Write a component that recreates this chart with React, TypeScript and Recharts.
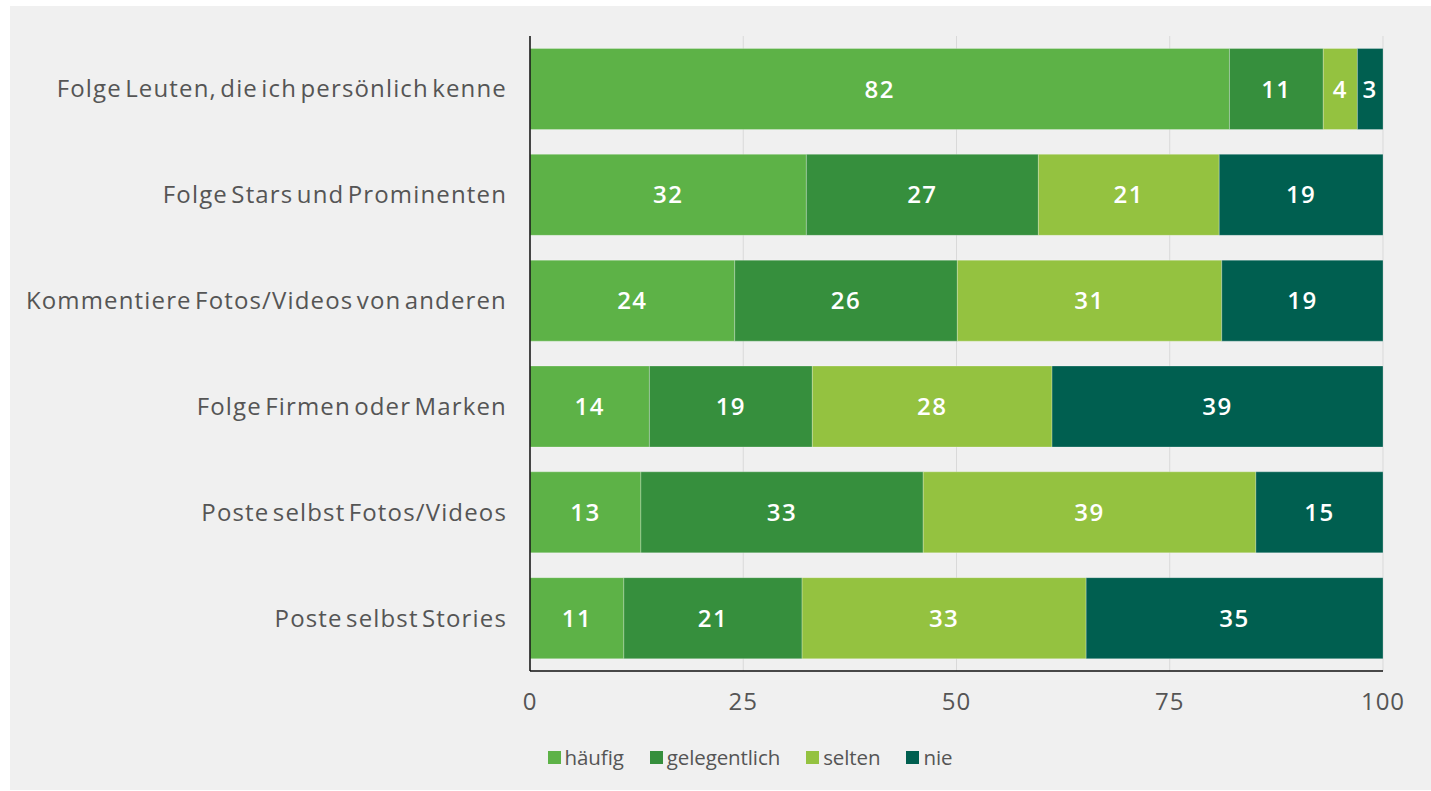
import {
  BarChart,
  Bar,
  XAxis,
  YAxis,
  CartesianGrid,
  LabelList,
  Legend,
} from 'recharts';

const CATEGORIES = [
  'Folge Leuten, die ich persönlich kenne',
  'Folge Stars und Prominenten',
  'Kommentiere Fotos/Videos von anderen',
  'Folge Firmen oder Marken',
  'Poste selbst Fotos/Videos',
  'Poste selbst Stories',
];

const HAEUFIG = [82, 32.4, 24, 14, 13, 11];
const GELEGENTLICH = [11, 27.2, 26.1, 19.1, 33.1, 20.9];
const SELTEN = [4, 21.2, 31, 28.1, 39, 33.3];
const NIE = [3, 19.2, 18.9, 38.8, 14.9, 34.8];

const X_TICKS = [0, 25, 50, 75, 100];

const SERIES = [
  { key: 'haeufig', name: 'häufig', color: '#5db247' },
  { key: 'gelegentlich', name: 'gelegentlich', color: '#368f3d' },
  { key: 'selten', name: 'selten', color: '#94c240' },
  { key: 'nie', name: 'nie', color: '#005f50' },
];

const FONT = '"Open Sans", "Noto Sans", sans-serif';
const TEXT = '#555555';

const chartData = CATEGORIES.map((name, i) => ({
  name,
  haeufig: HAEUFIG[i],
  gelegentlich: GELEGENTLICH[i],
  selten: SELTEN[i],
  nie: NIE[i],
}));

function LegendContent() {
  return (
    <div
      style={{
        display: 'flex',
        justifyContent: 'center',
        gap: 26,
        fontFamily: FONT,
        marginTop: -3,
      }}
    >
      {SERIES.map((s) => (
        <div key={s.key} style={{ display: 'flex', alignItems: 'center' }}>
          <span style={{ width: 13, height: 13, background: s.color, marginRight: 4 }} />
          <span style={{ fontSize: 20.5, color: TEXT, letterSpacing: -0.1 }}>{s.name}</span>
        </div>
      ))}
    </div>
  );
}

export default function App() {
  return (
    <div
      style={{
        position: 'absolute',
        left: 0,
        top: 0,
        width: 1431,
        height: 791,
        background: '#ffffff',
      }}
    >
      <div
        style={{
          position: 'absolute',
          left: 10,
          top: 6,
          width: 1421,
          height: 784,
          background: '#f0f0f0',
        }}
      >
        <BarChart
          width={1421}
          height={784}
          data={chartData}
          layout="vertical"
          barCategoryGap={12.5}
          margin={{ top: 30, right: 48, bottom: 20, left: 0 }}
        >
          <CartesianGrid horizontal={false} stroke="#d9d9d9" />
          <XAxis
            type="number"
            domain={[0, 100]}
            ticks={X_TICKS}
            allowDataOverflow
            axisLine={{ stroke: '#111111', strokeWidth: 1.5 }}
            tickLine={false}
            tickSize={0}
            tickMargin={22}
            height={75}
            tick={{ fill: TEXT, fontSize: 24, fontFamily: FONT, letterSpacing: 1 }}
          />
          <YAxis
            type="category"
            dataKey="name"
            width={520}
            axisLine={{ stroke: '#111111', strokeWidth: 1.5 }}
            tickLine={false}
            tickSize={0}
            tickMargin={23}
            tick={{
              fill: TEXT,
              fontSize: 24,
              fontFamily: FONT,
              letterSpacing: 1.15,
              wordSpacing: -4,
            }}
          />
          <Legend
            verticalAlign="bottom"
            height={24}
            wrapperStyle={{ left: 40, width: 1400 }}
            content={<LegendContent />}
          />
          {SERIES.map((s) => (
            <Bar
              key={s.key}
              dataKey={s.key}
              name={s.name}
              stackId="a"
              fill={s.color}
              stroke="rgba(255,255,255,0.25)"
              strokeWidth={1}
              isAnimationActive={false}
            >
              <LabelList
                dataKey={s.key}
                position="center"
                formatter={(v: number) => Math.round(v)}
                fill="#ffffff"
                fontSize={24}
                fontWeight={600}
                fontFamily={FONT}
                letterSpacing={1.5}
              />
            </Bar>
          ))}
        </BarChart>
      </div>
    </div>
  );
}
